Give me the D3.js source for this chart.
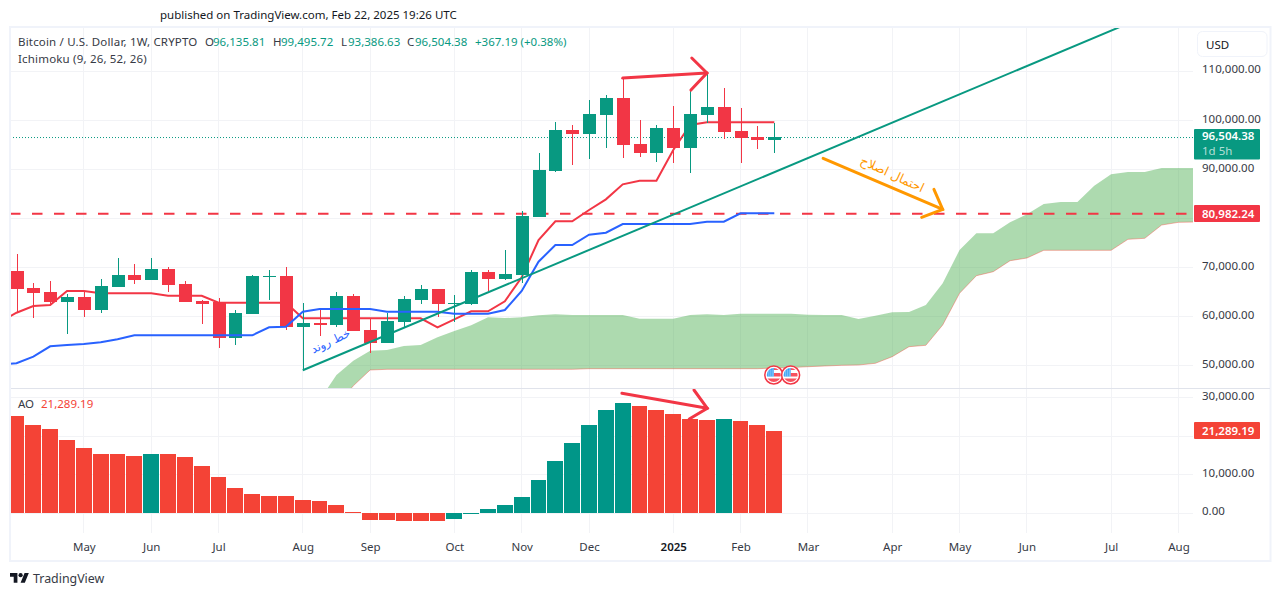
<!DOCTYPE html>
<html>
<head>
<meta charset="utf-8">
<title>BTCUSD weekly</title>
<script src="https://cdn.jsdelivr.net/npm/d3@7"></script>
<style>
  html, body { margin: 0; padding: 0; background: #fff; }
  svg { display: block; }
  text { font-family: "Noto Sans", sans-serif; font-size: 11.5px; fill: #131722; }
</style>
</head>
<body>
<svg id="chart" width="1281" height="596"></svg>
<script>
// weekly candles, week 0 is the first one on the left
const opens = [69310,65848,65033,62996,64015,61366,66052,68496,67477,69718,66663,63200,62855,55724,60552,68150,68292,57904,58719,58311,64218,57292,54644,58922,63400,65644,62650,62589,69107,67681,68496,80370,89680,98033,97218,101089,104552,95181,93348,98440,94366,101089,102717,97830,96600,96135.81];
const highs = [72774,66866,67274,64625,65237,67681,71959,70737,71959,70126,67274,63400,63810,61366,68496,69514,70126,62792,61774,65033,64625,59737,60755,64218,66459,65700,64421,69514,69514,73588,81534,93348,99662,99051,104144,105163,108620,100069,99051,102920,106380,109650,106584,102513,98847,99495.72];
const lows = [60817,59737,62385,56478,59856,60755,66000,66663,67400,65033,62900,58515,53626,54237,60500,63400,57292,49145,56070,57904,57000,52607,54600,57700,62589,59940,58922,62385,65237,67477,66866,80300,89477,90903,92126,94366,92330,92534,91515,91310,89273,99458,96200,91310,94163,93386.63];
const closes = [65705,64890,63057,64015,61366,66256,68496,67477,69718,66459,62996,62589,55724,60755,68292,68200,57904,58719,58311,64218,57089,54644,59125,63607,65644,62589,62800,69107,67681,68700,80515,89885,98033,97218,101292,104552,94977,93348,98440,94366,101292,102717,97626,96400,96000,96504.38];

// ichimoku lines start one week before the first candle
const lineStartWeek = -1;
const baseLine = [58900,60817,62181,62385,65237,65237,64768,64768,64768,64768,64279,64279,64279,62854,62854,62854,62854,62854,59676,59676,59676,59676,59676,59676,59676,59676,57842,59472,61102,61102,63139,68027,75625,79435,79435,81736,83916,86972,87705,87705,93958,99051,99601,99601,99601,99601,99601];
const conversionLine = [50305,50509,51854,53972,54237,54441,54787,55398,56213,56213,56213,56213,56213,56213,56213,56213,57842,57965,61020,61570,61570,61570,61570,61020,61020,61020,61020,60613,60613,60613,61366,65237,71205,74607,74607,76705,77112,78885,78885,78885,78885,78885,79353,79353,81064,81064,81064];

// cloud, shifted forward, starts at week 18
const cloudStartWeek = 18;
const spanA = [43033,48126,51039,53076,53218,54033,54237,55805,57089,58250,59879,59737,59879,60287,60491,60348,60348,60348,60348,59594,59594,59594,60348,60491,60348,60613,60613,60613,60613,60409,60348,60348,59533,60205,60898,60959,62385,66805,73588,76990,76990,79231,80861,82959,83366,83366,86686,89009,89477,89477,90292,90292,90292];
const spanB = [38959,42015,45926,49144,49287,49287,49287,49287,49287,49287,49287,49287,49287,49287,49287,49287,49409,49409,49409,49409,49409,49409,49409,49409,49409,49409,49409,49552,49654,49817,49959,50102,50163,50509,51854,53891,54176,58311,64768,68353,69168,71409,71959,73527,73527,73527,73527,73527,75768,75972,78681,79231,79292];

const aoValues = [25200,22850,21800,18950,16860,15290,15280,14770,15290,15280,14510,12170,9300,6430,4870,4340,4330,3300,3040,2000,170,-1890,-1900,-2160,-2170,-2180,-1650,-350,950,2000,4080,8510,13470,18160,22850,26760,28590,27800,26760,25700,24400,24150,24400,23890,22850,21289.19];

const priceTicks = [50000,60000,70000,80000,90000,100000,110000];
const aoTicks = [0,10000,20000,30000];
// 80,000 and 20,000 sit under the price badges, so they get a grid line and no label
const priceLabelTicks = [50000,60000,70000,90000,100000,110000];
const aoLabelTicks = [0,10000,30000];
const timeTickWeeks = [4,8,12,17,21,26,30,34,39,43,47,52,56,60,65,69];
const timeTickLabels = ["May","Jun","Jul","Aug","Sep","Oct","Nov","Dec","2025","Feb","Mar","Apr","May","Jun","Jul","Aug"];

const lastClose = 96504.38;
const supportPrice = 80982.24;
const aoLast = 21289.19;

// drawings, [week, value]
const trendLine = [[17,49100],[65.5,119000]];
const priceArrow = [[36,108620],[41,109650]];
const priceArrowHead = [[40.1,112700],[41,109650],[40.05,106180]];
const aoArrow = [[35.95,31170],[41.02,27265]];
const aoArrowHead = [[40.23,32030],[41.02,27265],[39.95,24480]];
const pullbackArrow = [[47.9,92268],[55,81879]];
const pullbackArrowHead = [[54.48,85953],[55,81879],[53.75,80249]];
const eventWeeks = [45,46];

const GREEN = "#089981", RED = "#F23645", BLUE = "#2962FF", ORANGE = "#FF9800";
const AO_GREEN = "#009688", AO_RED = "#F44336";
const GRID = "#f2f3f6", TEXT = "#131722", SOFT = "#363a45";

const paneLeft = 10, paneRight = 1193, paneTop = 27, paneBottom = 388, aoBottom = 533;

const x = d3.scaleLinear().domain([0, 45]).range([16.5, 774.3]);
const y = d3.scaleLinear().domain([50000, 110000]).range([365.8, 71.3]);
const yAo = d3.scaleLinear().domain([0, 30000]).range([513, 397.8]);

const svg = d3.select("#chart");
const fmt = d3.format(",.2f");

const defs = svg.append("defs");
defs.append("clipPath").attr("id", "mainClip").append("rect")
  .attr("x", paneLeft).attr("y", paneTop).attr("width", paneRight - paneLeft).attr("height", paneBottom - paneTop);
defs.append("clipPath").attr("id", "aoClip").append("rect")
  .attr("x", paneLeft).attr("y", paneBottom).attr("width", paneRight - paneLeft).attr("height", aoBottom - paneBottom);

// grid
const grid = svg.append("g").attr("stroke", GRID).attr("shape-rendering", "crispEdges");
grid.selectAll(".v").data(timeTickWeeks).enter().append("line")
  .attr("x1", d => x(d)).attr("x2", d => x(d)).attr("y1", paneTop).attr("y2", aoBottom);
grid.selectAll(".h").data(priceTicks).enter().append("line")
  .attr("x1", paneLeft).attr("x2", paneRight).attr("y1", d => y(d)).attr("y2", d => y(d));
grid.selectAll(".a").data(aoTicks).enter().append("line")
  .attr("x1", paneLeft).attr("x2", paneRight).attr("y1", d => yAo(d)).attr("y2", d => yAo(d));

// main pane
const main = svg.append("g").attr("clip-path", "url(#mainClip)");

const cloudWeek = (d, i) => x(cloudStartWeek + i);
const cloud = d3.area()
  .x((d, i) => cloudWeek(d, i))
  .y0((d, i) => y(spanB[i]))
  .y1(d => y(d));
main.append("path").attr("d", cloud(spanA)).attr("fill", "#4CAF50").attr("fill-opacity", 0.46);
main.append("path").attr("d", d3.line().x(cloudWeek).y(d => y(d))(spanB))
  .attr("fill", "none").attr("stroke", AO_RED).attr("stroke-opacity", 0.4);

const ichimoku = d3.line().x((d, i) => x(lineStartWeek + i)).y(d => y(d));
main.append("path").attr("d", ichimoku(baseLine))
  .attr("fill", "none").attr("stroke", RED).attr("stroke-width", 2);

main.append("line").attr("x1", paneLeft).attr("x2", paneRight)
  .attr("y1", y(supportPrice)).attr("y2", y(supportPrice))
  .attr("stroke", RED).attr("stroke-width", 2).attr("stroke-dasharray", "10.5 11.5");

main.append("line").attr("x1", paneLeft).attr("x2", paneRight)
  .attr("y1", y(lastClose)).attr("y2", y(lastClose))
  .attr("stroke", GREEN).attr("stroke-dasharray", "1 2");

// candles
const candles = main.append("g").attr("shape-rendering", "crispEdges");
opens.forEach((o, i) => {
  const c = closes[i];
  const col = c >= o ? GREEN : RED;
  const cx = Math.round(x(i));
  const bodyTop = Math.floor(y(Math.max(o, c)) + 0.1);
  const bodyBottom = Math.ceil(y(Math.min(o, c)) - 0.1);
  candles.append("rect").attr("x", cx).attr("width", 1)
    .attr("y", y(highs[i])).attr("height", y(lows[i]) - y(highs[i])).attr("fill", col);
  candles.append("rect").attr("x", cx - 6).attr("width", 13)
    .attr("y", bodyTop)
    .attr("height", Math.max(1, bodyBottom - bodyTop)).attr("fill", col);
});

main.append("path").attr("d", ichimoku(conversionLine))
  .attr("fill", "none").attr("stroke", BLUE).attr("stroke-width", 2);

// drawings on the main pane
const priceLine = d3.line().x(d => x(d[0])).y(d => y(d[1]));
const aoLine = d3.line().x(d => x(d[0])).y(d => yAo(d[1]));
main.append("path").attr("d", priceLine(trendLine))
  .attr("fill", "none").attr("stroke", GREEN).attr("stroke-width", 2);

[priceArrow, priceArrowHead].forEach(p => {
  svg.append("path").attr("d", priceLine(p)).attr("fill", "none")
    .attr("stroke", RED).attr("stroke-width", 3).attr("stroke-linecap", "round");
});
[pullbackArrow, pullbackArrowHead].forEach(p => {
  svg.append("path").attr("d", priceLine(p)).attr("fill", "none")
    .attr("stroke", ORANGE).attr("stroke-width", 3).attr("stroke-linecap", "round");
});

svg.append("text").text("خط روند")
  .attr("transform", `translate(${x(18.75)},${y(54300)}) rotate(-25)`)
  .attr("text-anchor", "middle").attr("direction", "rtl")
  .style("font-family", '"DejaVu Sans"').style("font-size", "11.5px").style("fill", BLUE);
svg.append("text").text("احتمال اصلاح")
  .attr("transform", `translate(${x(51.9)},${y(88255)}) rotate(25)`)
  .attr("text-anchor", "middle").attr("direction", "rtl")
  .style("font-family", '"DejaVu Sans"').style("font-size", "12.5px").style("fill", ORANGE);

// earnings flags
const flags = svg.append("g");
eventWeeks.forEach((w, k) => {
  const cx = x(w) - 0.5, cy = 375;
  defs.append("clipPath").attr("id", "flag" + k).append("circle").attr("cx", cx).attr("cy", cy).attr("r", 7);
  const f = flags.append("g");
  f.append("circle").attr("cx", cx).attr("cy", cy).attr("r", 9).attr("fill", "#fff").attr("stroke", RED).attr("stroke-width", 1.5);
  const inner = f.append("g").attr("clip-path", `url(#flag${k})`);
  inner.append("rect").attr("x", cx - 8).attr("y", cy - 8).attr("width", 16).attr("height", 16).attr("fill", "#fff");
  inner.append("rect").attr("x", cx).attr("y", cy - 2).attr("width", 8).attr("height", 3.5).attr("fill", "#F7525F");
  inner.append("rect").attr("x", cx).attr("y", cy - 7).attr("width", 8).attr("height", 2).attr("fill", "#F7525F");
  inner.append("rect").attr("x", cx - 8).attr("y", cy + 3.5).attr("width", 16).attr("height", 4).attr("fill", "#F7525F");
  inner.append("rect").attr("x", cx - 8).attr("y", cy - 8).attr("width", 8).attr("height", 9.5).attr("fill", "#2196F3");
  // canton grid
  [-5, -3, -1].forEach(dx => {
    inner.append("line").attr("x1", cx + dx).attr("x2", cx + dx).attr("y1", cy - 8).attr("y2", cy + 1.5)
      .attr("stroke", "#fff").attr("stroke-opacity", 0.55).attr("stroke-width", 0.6);
  });
  [-4, -2, 0].forEach(dy => {
    inner.append("line").attr("x1", cx - 8).attr("x2", cx).attr("y1", cy + dy).attr("y2", cy + dy)
      .attr("stroke", "#fff").attr("stroke-opacity", 0.55).attr("stroke-width", 0.6);
  });
});

// AO pane, one pixel gap between bars
const aoPane = svg.append("g").attr("clip-path", "url(#aoClip)").attr("shape-rendering", "crispEdges");
aoPane.selectAll("rect").data(aoValues).enter().append("rect")
  .attr("x", (d, i) => Math.round(x(i)) - 8)
  .attr("width", (d, i) => Math.round(x(i + 1)) - Math.round(x(i)) - 1)
  .attr("y", d => Math.min(yAo(d), yAo(0)))
  .attr("height", d => Math.abs(yAo(d) - yAo(0)))
  .attr("fill", (d, i) => i > 0 && d >= aoValues[i - 1] ? AO_GREEN : AO_RED);

[aoArrow, aoArrowHead].forEach(p => {
  svg.append("path").attr("d", aoLine(p)).attr("fill", "none")
    .attr("stroke", RED).attr("stroke-width", 3).attr("stroke-linecap", "round");
});

// frame and pane separator
svg.append("rect").attr("x", 10).attr("y", 27).attr("width", 1260.5).attr("height", 534)
  .attr("fill", "none").attr("stroke", "#f0f3fa").attr("stroke-width", 2);
svg.append("line").attr("x1", 11).attr("x2", 1270).attr("y1", 388.5).attr("y2", 388.5)
  .attr("stroke", "#e0e3eb");

// axes
function cleanAxis(g) {
  g.select(".domain").remove();
  g.selectAll("line").remove();
  g.selectAll("text").style("font-size", "11.5px").style("font-family", '"Noto Sans", sans-serif').style("fill", SOFT);
}
svg.append("g").attr("transform", "translate(1202,-2)")
  .call(d3.axisRight(y).tickValues(priceLabelTicks).tickFormat(fmt).tickSize(0).tickPadding(0))
  .call(cleanAxis);
svg.append("g").attr("transform", "translate(1202,-2)")
  .call(d3.axisRight(yAo).tickValues(aoLabelTicks).tickFormat(fmt).tickSize(0).tickPadding(0))
  .call(cleanAxis);
svg.append("g").attr("transform", "translate(0,543)")
  .call(d3.axisBottom(x).tickValues(timeTickWeeks).tickFormat((d, i) => timeTickLabels[i]).tickSize(0).tickPadding(0))
  .call(cleanAxis)
  .selectAll("text").filter(d => d === 39).style("font-weight", 600).style("fill", TEXT);

// price labels on the axis
function axisBadge(top, h, fill) {
  svg.append("rect").attr("x", 1194).attr("y", top).attr("width", 66).attr("height", h).attr("rx", 1).attr("fill", fill);
}
function badgeText(str, yy, opacity) {
  svg.append("text").text(str).attr("x", 1202).attr("y", yy)
    .style("fill", "#fff").style("font-weight", opacity ? 400 : 600).style("fill-opacity", opacity || 1);
}
axisBadge(129, 30.5, GREEN);
badgeText(fmt(lastClose), 140, 0);
badgeText("1d 5h", 155, 0.7);
axisBadge(205, 17, RED);
badgeText(fmt(supportPrice), 218, 0);
axisBadge(422, 17, AO_RED);
badgeText(fmt(aoLast), 435, 0);

// currency button
svg.append("rect").attr("x", 1197.5).attr("y", 31.5).attr("width", 69.5).attr("height", 25).attr("rx", 5)
  .attr("fill", "#fff").attr("stroke", "#f0f3fa");
svg.append("text").text("USD").attr("x", 1206).attr("y", 48.5).style("fill", TEXT);

// legend
svg.append("text").text("published on TradingView.com, Feb 22, 2025 19:26 UTC").attr("x", 160).attr("y", 19);
svg.append("text").text("Bitcoin / U.S. Dollar, 1W, CRYPTO").attr("x", 18).attr("y", 46).style("fill", SOFT).style("letter-spacing", "0.18px");
svg.append("text").text("Ichimoku (9, 26, 52, 26)").attr("x", 18).attr("y", 63).style("fill", SOFT).style("letter-spacing", "0.18px");
[["O", 205], ["H", 273], ["L", 341], ["C", 407]].forEach(d => {
  svg.append("text").text(d[0]).attr("x", d[1]).attr("y", 46).style("fill", SOFT);
});
[[opens[45], 213], [highs[45], 281], [lows[45], 348], [closes[45], 415]].forEach(d => {
  svg.append("text").text(fmt(d[0])).attr("x", d[1]).attr("y", 46).style("fill", GREEN);
});
svg.append("text").text("+367.19 (+0.38%)").attr("x", 475).attr("y", 46).style("fill", GREEN);
svg.append("text").text("AO").attr("x", 18).attr("y", 408).style("fill", SOFT);
svg.append("text").text(fmt(aoLast)).attr("x", 41).attr("y", 408).style("fill", AO_RED);

// footer logo
const logo = svg.append("g").attr("transform", "translate(10,571) scale(0.53)").attr("fill", TEXT);
logo.append("path").attr("d", "M14 22H7V11H0V4h14v18zM28 22h-8l7.5-18h8L28 22z");
logo.append("circle").attr("cx", 20).attr("cy", 8).attr("r", 4);
svg.append("text").text("TradingView").attr("x", 33).attr("y", 583).style("font-size", "12.4px").style("fill", SOFT);
</script>
</body>
</html>
